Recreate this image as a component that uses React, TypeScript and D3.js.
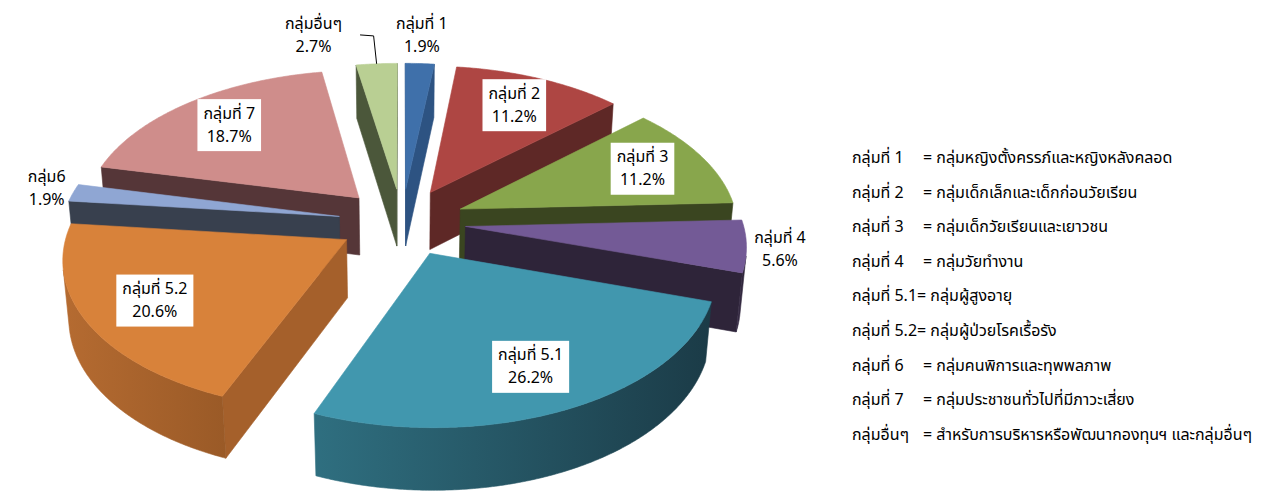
import React from "react";
import * as d3 from "d3";

// ---------- data ----------
const groups = ["กลุ่มที่ 1", "กลุ่มที่ 2", "กลุ่มที่ 3", "กลุ่มที่ 4", "กลุ่มที่ 5.1", "กลุ่มที่ 5.2", "กลุ่ม6", "กลุ่มที่ 7", "กลุ่มอื่นๆ"];
const shares = [1.9, 11.2, 11.2, 5.6, 26.2, 20.6, 1.9, 18.7, 2.7];

const legendNames = ["กลุ่มที่ 1", "กลุ่มที่ 2", "กลุ่มที่ 3", "กลุ่มที่ 4", "กลุ่มที่ 5.1", "กลุ่มที่ 5.2", "กลุ่มที่ 6", "กลุ่มที่ 7", "กลุ่มอื่นๆ"];
const legendDescs = [
  "กลุ่มหญิงตั้งครรภ์และหญิงหลังคลอด",
  "กลุ่มเด็กเล็กและเด็กก่อนวัยเรียน",
  "กลุ่มเด็กวัยเรียนและเยาวชน",
  "กลุ่มวัยทำงาน",
  "กลุ่มผู้สูงอายุ",
  "กลุ่มผู้ป่วยโรคเรื้อรัง",
  "กลุ่มคนพิการและทุพพลภาพ",
  "กลุ่มประชาชนทั่วไปที่มีภาวะเสี่ยง",
  "สำหรับการบริหารหรือพัฒนากองทุนฯ และกลุ่มอื่นๆ",
];

// ---------- styles ----------
const topColors = ["#3f70aa", "#ae4643", "#88a64c", "#735a96", "#4197ae", "#d8823a", "#8fa6d3", "#cf8d8b", "#b9cf93"];
const sideColors = ["#2d5382", "#5e2826", "#3a4520", "#2e2439", "#24525f", "#a5602b", "#38404e", "#553638", "#4b573a"];
const wallLight = ["#2d5382", "#6a2e2c", "#44512a", "#3a2e48", "#2f6f80", "#b56b31", "#414a5a", "#5e3c3e", "#55623f"];
const wallDark = ["#24446c", "#4e2220", "#333c1c", "#2b2236", "#1b3b47", "#9a5a27", "#30363f", "#482e30", "#414b32"];

const FONT = "Tahoma, 'Noto Sans Thai', 'Leelawadee UI', 'Noto Sans', 'DejaVu Sans', sans-serif";
const W = 1271, H = 502;

// projection parameters
const CX = 402, CY = 222;
const D = 7.5;
const ELEV = (32 * Math.PI) / 180;
const F = 2080;
const DEPTH = 0.25;
const EXPLODE = 0.23;
const ce = Math.cos(ELEV), se = Math.sin(ELEV);

type P = [number, number];
function project(X: number, Y: number, Z: number): P {
  const zc = D + Y * ce - Z * se;
  const yc = Y * se + Z * ce;
  return [CX + (F * X) / zc, CY - (F * yc) / zc];
}

let _ctx: CanvasRenderingContext2D | null = null;
function textW(s: string, size: number) {
  if (!_ctx) _ctx = document.createElement("canvas").getContext("2d");
  if (!_ctx) return s.length * size * 0.5;
  _ctx.font = `${size}px ${FONT}`;
  return _ctx.measureText(s).width;
}

const lineGen = d3.line<P>();

export default function App() {
  const pie = d3.pie<number>().sort(null).value((d) => d).startAngle(0).endAngle(2 * Math.PI);
  const arcs = pie(shares);
  const Cy = -D * ce;

  const slices = arcs.map((a, i) => {
    const a0 = a.startAngle, a1 = a.endAngle;
    const m = (a0 + a1) / 2;
    const Ex = EXPLODE * Math.sin(m), Ey = EXPLODE * Math.cos(m);
    const n = Math.max(4, Math.ceil((a1 - a0) / (Math.PI / 360)));
    const angs = d3.range(n + 1).map((k) => a0 + ((a1 - a0) * k) / n);
    const pt = (t: number, r: number, z: number) => project(Ex + r * Math.sin(t), Ey + r * Math.cos(t), z);
    const apexT = project(Ex, Ey, 0), apexB = project(Ex, Ey, -DEPTH);
    const faces: { pts: P[]; fill: string }[] = [];
    const nsx = -Math.cos(a0), nsy = Math.sin(a0);
    if (nsx * (0 - Ex) + nsy * (Cy - Ey) > 0)
      faces.push({ pts: [apexT, pt(a0, 1, 0), pt(a0, 1, -DEPTH), apexB], fill: sideColors[i] });
    const nex = Math.cos(a1), ney = -Math.sin(a1);
    if (nex * (0 - Ex) + ney * (Cy - Ey) > 0)
      faces.push({ pts: [apexT, pt(a1, 1, 0), pt(a1, 1, -DEPTH), apexB], fill: sideColors[i] });
    let run: number[] = [];
    const flush = () => {
      if (run.length > 1) {
        faces.push({
          pts: [...run.map((t) => pt(t, 1, 0)), ...run.slice().reverse().map((t) => pt(t, 1, -DEPTH))],
          fill: `url(#wall${i})`,
        });
      }
      run = [];
    };
    for (const t of angs) {
      const vis = -D * ce * Math.cos(t) - Ex * Math.sin(t) - Ey * Math.cos(t) - 1 > 0;
      if (vis) run.push(t);
      else flush();
    }
    flush();
    const top: P[] = [apexT, ...angs.map((t) => pt(t, 1, 0))];
    return { i, m, a0, a1, Ex, Ey, faces, top, order: Math.cos(m) };
  });

  const drawOrder = slices.slice().sort((p, q) => q.order - p.order);

  // ---------- labels ----------
  const FS = 16, LH = 23;
  type Lab = { i: number; x: number; y: number; w: number; h: number; inside: boolean; leader?: P[] };
  const labels: Lab[] = slices.map((s) => {
    const i = s.i;
    const l1 = groups[i], l2 = `${shares[i]}%`;
    const w = Math.max(textW(l1, FS), textW(l2, FS)) + 12;
    const h = 2 * LH + 6;
    const inside = shares[i] >= 10;
    if (inside) {
      const r = EXPLODE + 0.75;
      const [x, y] = project(r * Math.sin(s.m), r * Math.cos(s.m), 0);
      return { i, x, y, w, h, inside };
    }
    const edge = project(s.Ex + Math.sin(s.m), s.Ey + Math.cos(s.m), 0);
    const dx = Math.sin(s.m), dy = -Math.cos(s.m);
    const gap = 8;
    const x = edge[0] + dx * (gap + w / 2 - 6);
    const y = edge[1] + dy * (gap + h / 2 - 6);
    return { i, x, y, w, h, inside };
  });
  const outs = labels.filter((l) => !l.inside);
  for (let k = 0; k < outs.length; k++) {
    for (let j = 0; j < outs.length; j++) {
      if (j === k) continue;
      const A = outs[k], B = outs[j];
      if (A.i <= B.i) continue;
      const ox = Math.abs(A.x - B.x) < (A.w + B.w) / 2;
      const oy = Math.abs(A.y - B.y) < (A.h + B.h) / 2;
      if (ox && oy) {
        const s = slices[A.i];
        const edge = project(s.Ex + Math.sin(s.m), s.Ey + Math.cos(s.m), 0);
        A.x = B.x - B.w / 2 - 42 - A.w / 2;
        const right = A.x + A.w / 2 - 6;
        A.leader = [edge, [edge[0] - 3, A.y], [right + 18, A.y - 1]];
      }
    }
  }

  const legendX = 852, legendY0 = 163, legendDy = 34.6, eqX = 923;

  return (
    <svg width={W} height={H} style={{ position: "absolute", left: 0, top: 0, background: "#fff" }} fontFamily={FONT}>
      <defs>
        {slices.map((s) => (
          <linearGradient key={s.i} id={`wall${s.i}`} x1="0" y1="0" x2="1" y2="0">
            <stop offset="0" stopColor={wallLight[s.i]} />
            <stop offset="1" stopColor={wallDark[s.i]} />
          </linearGradient>
        ))}
      </defs>
      <g>
        {drawOrder.map((s) => (
          <g key={s.i}>
            {s.faces.map((f, k) => (
              <path key={k} d={lineGen(f.pts) + "Z"} fill={f.fill} stroke={f.fill} strokeWidth={0.6} strokeLinejoin="round" />
            ))}
            <path d={lineGen(s.top) + "Z"} fill={topColors[s.i]} stroke={topColors[s.i]} strokeWidth={0.6} strokeLinejoin="round" />
          </g>
        ))}
      </g>
      <g>
        {labels.map((l) => (
          <g key={l.i}>
            {l.leader && <path d={lineGen(l.leader) || ""} fill="none" stroke="#000" strokeWidth={1} />}
            {l.inside && <rect x={l.x - l.w / 2} y={l.y - l.h / 2} width={l.w} height={l.h} fill="#fff" />}
            <text x={l.x} y={l.y - LH / 2 + 5} textAnchor="middle" fontSize={FS} fill="#000">{groups[l.i]}</text>
            <text x={l.x} y={l.y + LH / 2 + 5} textAnchor="middle" fontSize={FS} fill="#000">{`${shares[l.i]}%`}</text>
          </g>
        ))}
      </g>
      <g fontSize={16} fill="#000">
        {legendNames.map((nm, k) => (
          <text key={k} x={legendX} y={legendY0 + k * legendDy}>
            {nm}
            {nm.length > 10 ? <tspan>{`= ${legendDescs[k]}`}</tspan> : <tspan x={eqX}>{`= ${legendDescs[k]}`}</tspan>}
          </text>
        ))}
      </g>
    </svg>
  );
}
